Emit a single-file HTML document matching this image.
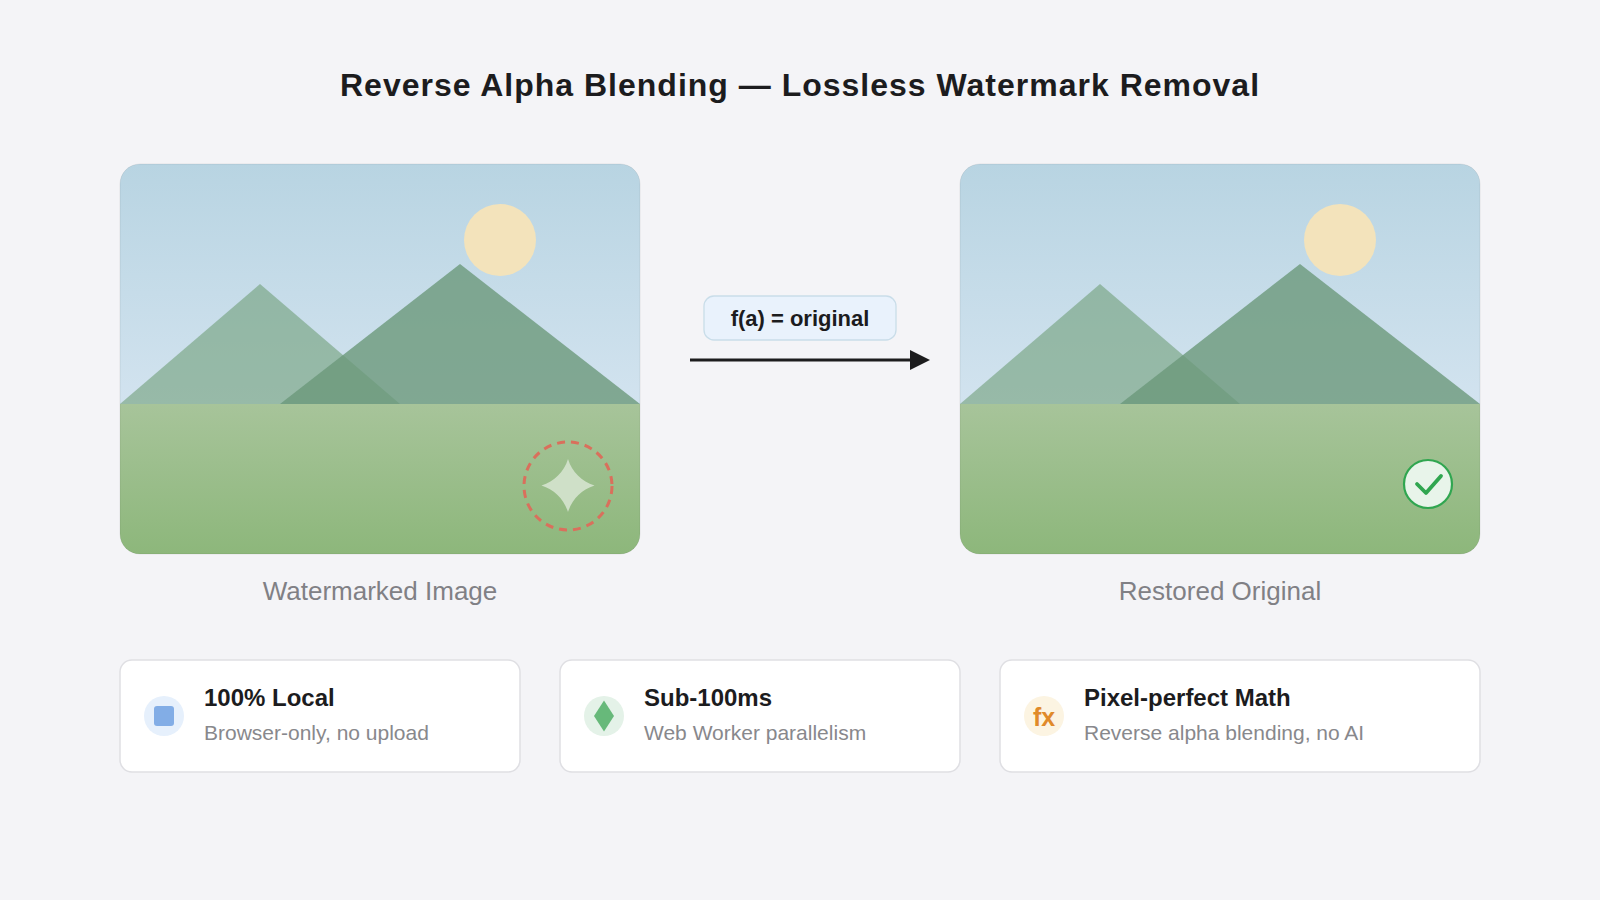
<!DOCTYPE html>
<html>
<head>
<meta charset="utf-8">
<style>
html,body{margin:0;padding:0;background:#f4f4f7;}
body{width:1600px;height:900px;overflow:hidden;}
svg{display:block;}
text{font-family:"Liberation Sans", sans-serif;}
</style>
</head>
<body>
<svg width="1600" height="900" viewBox="0 0 1600 900">
<defs>
  <linearGradient id="sky" x1="0" y1="0" x2="0" y2="1">
    <stop offset="0" stop-color="#b8d4e2"/>
    <stop offset="1" stop-color="#d2e3ef"/>
  </linearGradient>
  <linearGradient id="ground" x1="0" y1="0" x2="0" y2="1">
    <stop offset="0" stop-color="#a7c49a"/>
    <stop offset="1" stop-color="#8db77b"/>
  </linearGradient>
  <clipPath id="c1"><rect x="120" y="164" width="520" height="390" rx="20"/></clipPath>
  <clipPath id="c2"><rect x="960" y="164" width="520" height="390" rx="20"/></clipPath>
  <g id="scene">
    <rect x="0" y="0" width="520" height="240" fill="url(#sky)"/>
    <circle cx="380" cy="76" r="36" fill="#f3e3bb"/>
    <polygon points="0,240 140,120 280,240" fill="#6f9e78" fill-opacity="0.6"/>
    <polygon points="160,240 340,100 520,240" fill="#6b997b" fill-opacity="0.8"/>
    <rect x="0" y="240" width="520" height="150" fill="url(#ground)"/>
  </g>
</defs>

<rect width="1600" height="900" fill="#f4f4f7"/>

<text x="800" y="96" text-anchor="middle" font-size="32" font-weight="bold" fill="#1c1c1e" letter-spacing="1">Reverse Alpha Blending — Lossless Watermark Removal</text>

<!-- left card -->
<g clip-path="url(#c1)">
  <use href="#scene" x="120" y="164"/>
</g>
<rect x="120" y="164" width="520" height="390" rx="20" fill="none" stroke="#000" stroke-opacity="0.07" stroke-width="1"/>
<circle cx="568" cy="486" r="44" fill="none" stroke="#d9705c" stroke-width="3" stroke-dasharray="8 6"/>
<path d="M568.00,459.10 C571.93,471.86 581.74,481.67 594.50,485.60 C581.74,489.53 571.93,499.34 568.00,512.10 C564.07,499.34 554.26,489.53 541.50,485.60 C554.26,481.67 564.07,471.86 568.00,459.10 Z" fill="#cfe0c8"/>

<!-- arrow -->
<rect x="704" y="296" width="192" height="44" rx="10" fill="#e9f2fc" stroke="#c9dde9" stroke-width="1.3"/>
<text x="800" y="326" text-anchor="middle" font-size="22" font-weight="bold" fill="#1c1c1e">f(a) = original</text>
<line x1="690" y1="360" x2="915" y2="360" stroke="#1c1c1e" stroke-width="3"/>
<polygon points="910,350 930,360 910,370" fill="#1c1c1e"/>

<!-- right card -->
<g clip-path="url(#c2)">
  <use href="#scene" x="960" y="164"/>
</g>
<rect x="960" y="164" width="520" height="390" rx="20" fill="none" stroke="#000" stroke-opacity="0.07" stroke-width="1"/>
<circle cx="1428" cy="484" r="24" fill="#e8f4ea" stroke="#30a650" stroke-width="2.2"/>
<path d="M1417,484 L1426,493 L1441,476" fill="none" stroke="#30a650" stroke-width="3.8" stroke-linecap="round" stroke-linejoin="round"/>

<text x="380" y="600" text-anchor="middle" font-size="26" fill="#808085">Watermarked Image</text>
<text x="1220" y="600" text-anchor="middle" font-size="26" fill="#808085">Restored Original</text>

<!-- feature cards -->
<rect x="120" y="660" width="400" height="112" rx="12" fill="#fff" stroke="#dfdfe3" stroke-width="1.5"/>
<rect x="560" y="660" width="400" height="112" rx="12" fill="#fff" stroke="#dfdfe3" stroke-width="1.5"/>
<rect x="1000" y="660" width="480" height="112" rx="12" fill="#fff" stroke="#dfdfe3" stroke-width="1.5"/>

<circle cx="164" cy="716" r="20" fill="#e6f0fc"/>
<rect x="154" y="706" width="20" height="20" rx="3" fill="#82ade6"/>
<circle cx="604" cy="716" r="20" fill="#e4f2e8"/>
<polygon points="604,700.5 614,716 604,731.5 594,716" fill="#67b97a"/>
<circle cx="1044" cy="716" r="20" fill="#fcf4e2"/>
<text x="1044" y="726" text-anchor="middle" font-size="25" font-weight="bold" fill="#e08a2a">fx</text>

<text x="204" y="706" font-size="24" font-weight="bold" fill="#1c1c1e">100% Local</text>
<text x="204" y="740" font-size="21" fill="#88888c">Browser-only, no upload</text>
<text x="644" y="706" font-size="24" font-weight="bold" fill="#1c1c1e">Sub-100ms</text>
<text x="644" y="740" font-size="21" fill="#88888c">Web Worker parallelism</text>
<text x="1084" y="706" font-size="24" font-weight="bold" fill="#1c1c1e">Pixel-perfect Math</text>
<text x="1084" y="740" font-size="21" fill="#88888c">Reverse alpha blending, no AI</text>
</svg>
</body>
</html>
